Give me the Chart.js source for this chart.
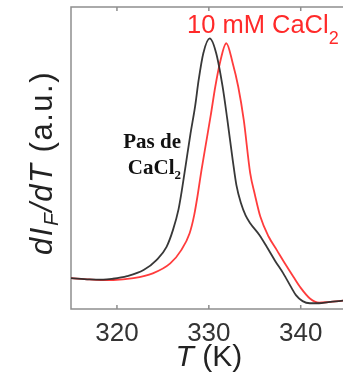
<!DOCTYPE html>
<html><head><meta charset="utf-8">
<script src="https://cdn.jsdelivr.net/npm/chart.js@4/dist/chart.umd.min.js"></script>
<style>html,body{margin:0;padding:0;background:#fff;overflow:hidden}#wrap{width:343px;height:378px;position:relative}</style>
</head><body><div id="wrap"><canvas id="c" width="343" height="378"></canvas></div>
<script>
// Temperature (K) and dI_F/dT (a.u.)
const tempNoCa = [315,317,318.5,319.5,321.1,322.9,324.3,325.4,326.1,326.7,327.1,327.5,328.0,328.5,328.9,329.4,330.1,330.8,331.5,332.0,332.6,333.0,333.5,334.0,334.5,335.5,336.3,337.2,338.1,339.0,339.5,340.2,341.0,342.0,343.0,344.7];
const dIdtNoCa = [10.2,9.8,9.7,10.0,10.9,12.9,16.2,20.6,26.2,33,40,48,58,67,76,84.7,89.6,84.7,73.6,63,49.3,41,35,31,28.4,24.5,20.6,16,11.8,7,4.5,2.6,1.9,1.9,2.3,2.8];
const tempCa = [315,317,318.5,319.6,321.8,323.9,325.8,327.0,327.9,328.4,328.8,329.2,329.7,330.2,330.7,331.2,331.9,332.6,333.2,333.8,334.5,335.0,335.6,336.5,337.4,338.3,339.2,340.0,341.0,342.0,343.0,344.7];
const dIdtCa = [10.2,9.8,9.6,9.6,10.2,11.8,15.1,19.5,25,31,38,46,55,64,73.6,81.4,88,81.4,73.6,62.6,45,38,30.6,24,19.5,15,10.7,7,3.5,2.1,2.3,2.8];
const xTicks = [320,330,340];
const xRange = [315,344.6];
const yRange = [0,100];
const seriesLabels = ['Pas de CaCl2','10 mM CaCl2'];

const toPts = (xs, ys) => xs.map((x,i)=>({x:x, y:ys[i]}));

function drawRuns(ctx, runs, x, y, align){
  let total = 0;
  runs.forEach(r=>{ctx.font=r.font; r.w=ctx.measureText(r.t).width; total+=r.w;});
  let cx = align==='center' ? x-total/2 : (align==='right' ? x-total : x);
  runs.forEach(r=>{ctx.font=r.font; ctx.fillText(r.t, cx, y+(r.dy||0)); cx+=r.w;});
}

const framePlugin = {
  id:'frame',
  beforeDatasetsDraw(chart){
    const ca = chart.chartArea, ctx = chart.ctx, xs = chart.scales.x;
    ctx.save();
    ctx.strokeStyle = '#8e8e8e'; ctx.lineWidth = 1.5;
    ctx.beginPath();
    ctx.moveTo(ca.right+2, ca.top); ctx.lineTo(ca.left, ca.top);
    ctx.lineTo(ca.left, ca.bottom); ctx.lineTo(ca.right+2, ca.bottom);
    xTicks.forEach(v=>{
      const px = xs.getPixelForValue(v);
      ctx.moveTo(px, ca.bottom); ctx.lineTo(px, ca.bottom-4);
      ctx.moveTo(px, ca.top); ctx.lineTo(px, ca.top+4);
    });
    ctx.stroke();
    ctx.restore();
  },
  afterDraw(chart){
    const ctx = chart.ctx, xs = chart.scales.x;
    ctx.save();
    ctx.textBaseline = 'alphabetic';
    // x title
    ctx.fillStyle = '#222';
    drawRuns(ctx, [
      {t:'T', font:'italic 30px "Liberation Sans", Arial, sans-serif'},
      {t:' (K)', font:'30px "Liberation Sans", Arial, sans-serif'}
    ], xs.getPixelForValue(330), 366, 'center');
    // y title
    ctx.save();
    ctx.translate(52, 163);
    ctx.rotate(-Math.PI/2);
    ctx.letterSpacing = '1.5px';
    drawRuns(ctx, [
      {t:'dI', font:'italic 31px "Liberation Sans", Arial, sans-serif'},
      {t:'F', font:'italic 21px "Liberation Sans", Arial, sans-serif', dy:6},
      {t:'/dT', font:'italic 31px "Liberation Sans", Arial, sans-serif'},
      {t:' (a.u.)', font:'31px "Liberation Sans", Arial, sans-serif'}
    ], 0, 0, 'center');
    ctx.restore();
    // red annotation
    ctx.fillStyle = '#ff2a2a';
    drawRuns(ctx, [
      {t:'10 mM CaCl', font:'25.5px "Liberation Sans", Arial, sans-serif'},
      {t:'2', font:'18px "Liberation Sans", Arial, sans-serif', dy:11}
    ], 187, 33, 'left');
    // black annotation
    ctx.fillStyle = '#111';
    drawRuns(ctx, [
      {t:'Pas de', font:'bold 21px "Liberation Serif", "Times New Roman", serif'}
    ], 181, 148, 'right');
    drawRuns(ctx, [
      {t:'CaCl', font:'bold 21px "Liberation Serif", "Times New Roman", serif'},
      {t:'2', font:'bold 13px "Liberation Serif", "Times New Roman", serif', dy:5}
    ], 181, 174, 'right');
    ctx.restore();
  }
};

new Chart(document.getElementById('c'), {
  type:'line',
  data:{ datasets:[
    {label:seriesLabels[0], data:toPts(tempNoCa,dIdtNoCa), borderColor:'rgba(45,45,45,0.95)', borderWidth:1.8, pointRadius:0, cubicInterpolationMode:'monotone', fill:false},
    {label:seriesLabels[1], data:toPts(tempCa,dIdtCa), borderColor:'rgba(255,50,50,0.95)', borderWidth:1.8, pointRadius:0, cubicInterpolationMode:'monotone', fill:false}
  ]},
  options:{
    responsive:false, animation:false, devicePixelRatio:1,
    layout:{padding:{top:7,right:0,left:0,bottom:0}},
    plugins:{legend:{display:false}, tooltip:{enabled:false}},
    scales:{
      x:{type:'linear', min:xRange[0], max:xRange[1],
         afterBuildTicks:s=>{s.ticks = xTicks.map(v=>({value:v}));},
         afterFit:s=>{s.height = 69;},
         grid:{display:false, drawTicks:false}, border:{display:false},
         ticks:{font:{size:26, family:'"Liberation Sans", Arial, sans-serif'}, color:'#333', padding:9, maxRotation:0, autoSkip:false}},
      y:{type:'linear', min:yRange[0], max:yRange[1],
         afterFit:s=>{s.width = 71;},
         grid:{display:false, drawTicks:false}, border:{display:false},
         ticks:{display:false}}
    }
  },
  plugins:[framePlugin]
});
</script></body></html>
